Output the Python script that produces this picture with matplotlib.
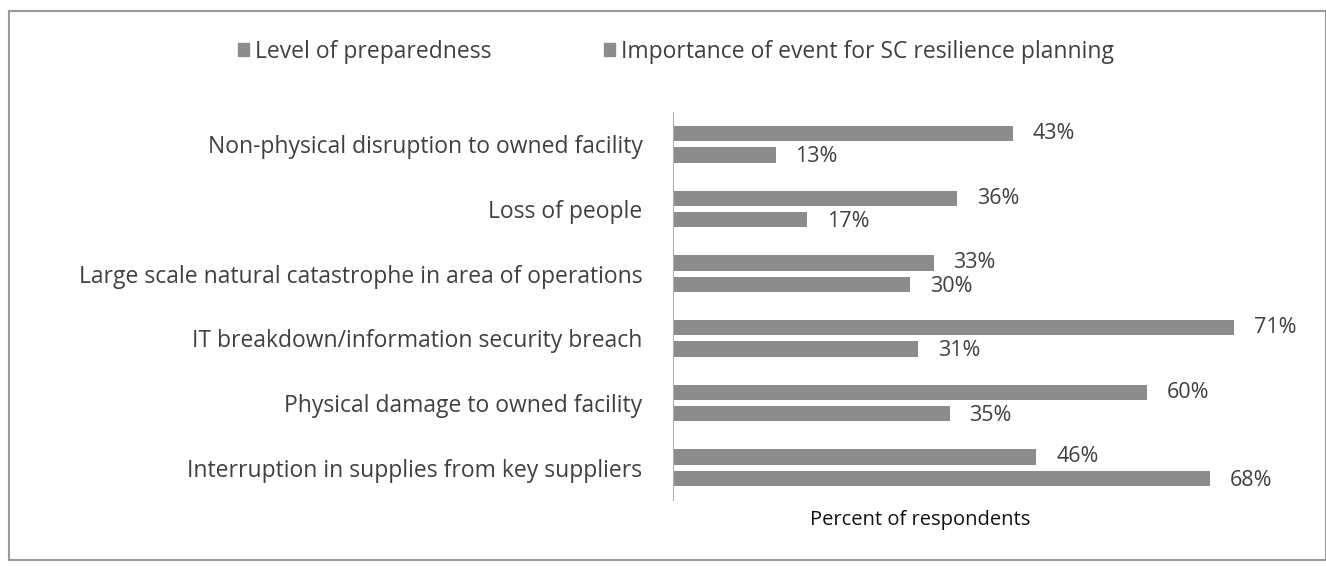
import matplotlib.pyplot as plt
from matplotlib.patches import Patch, Rectangle
import numpy as np

categories = ["Non-physical disruption to owned facility",
              "Loss of people",
              "Large scale natural catastrophe in area of operations",
              "IT breakdown/information security breach",
              "Physical damage to owned facility",
              "Interruption in supplies from key suppliers"]
importance = [43, 36, 33, 71, 60, 46]
preparedness = [13, 17, 30, 31, 35, 68]
series_names = ["Level of preparedness", "Importance of event for SC resilience planning"]

plt.rcParams['font.family'] = ['Open Sans', 'DejaVu Sans']
txt = '#404040'
bar_col = '#8c8c8c'

fig = plt.figure(figsize=(13.26, 5.67), dpi=100)
ax = fig.add_axes([673/1326, 1-500/567, (1300-673)/1326, (500-112)/567])

y = np.arange(len(categories))
h = 0.235
off = 0.165
ax.barh(y - off, importance, height=h, color=bar_col)
ax.barh(y + off, preparedness, height=h, color=bar_col)

for yi, v in zip(y, importance):
    ax.text(v + 2.5, yi - off + 0.0, f"{v}%", va='center', ha='left', fontsize=15.5, color=txt)
for yi, v in zip(y, preparedness):
    ax.text(v + 2.5, yi + off + 0.03, f"{v}%", va='center', ha='left', fontsize=15.5, color=txt)

ax.set_xlim(0, (1300-673)/7.9)
ax.set_ylim(len(categories) - 0.5, -0.5)
ax.set_yticks(y)
ax.set_yticklabels(categories, fontsize=16.5, color=txt)
ax.tick_params(axis='y', length=0, pad=22)
ax.set_xticks([])
for s in ['top', 'right', 'bottom']:
    ax.spines[s].set_visible(False)
ax.spines['left'].set_color('#b0b0b0')

fig.text(920/1326, 1-520/567, "Percent of respondents", ha='center', va='center',
         fontsize=14.5, color='#111111')

handles = [Patch(color=bar_col) for _ in series_names]
fig.legend(handles, series_names, loc='center', bbox_to_anchor=(676/1326, 1-52/567), ncol=2,
           frameon=False, fontsize=16.5, handlelength=0.5, handleheight=0.5,
           handletextpad=0.25, columnspacing=4.9, labelcolor=txt)

fig.add_artist(Rectangle((9/1326, 1-560/567), (1326-9)/1326, (560-11)/567,
                         transform=fig.transFigure, fill=False, edgecolor='#9a9a9a', lw=1.5))

fig.savefig('out.png', dpi=100)
